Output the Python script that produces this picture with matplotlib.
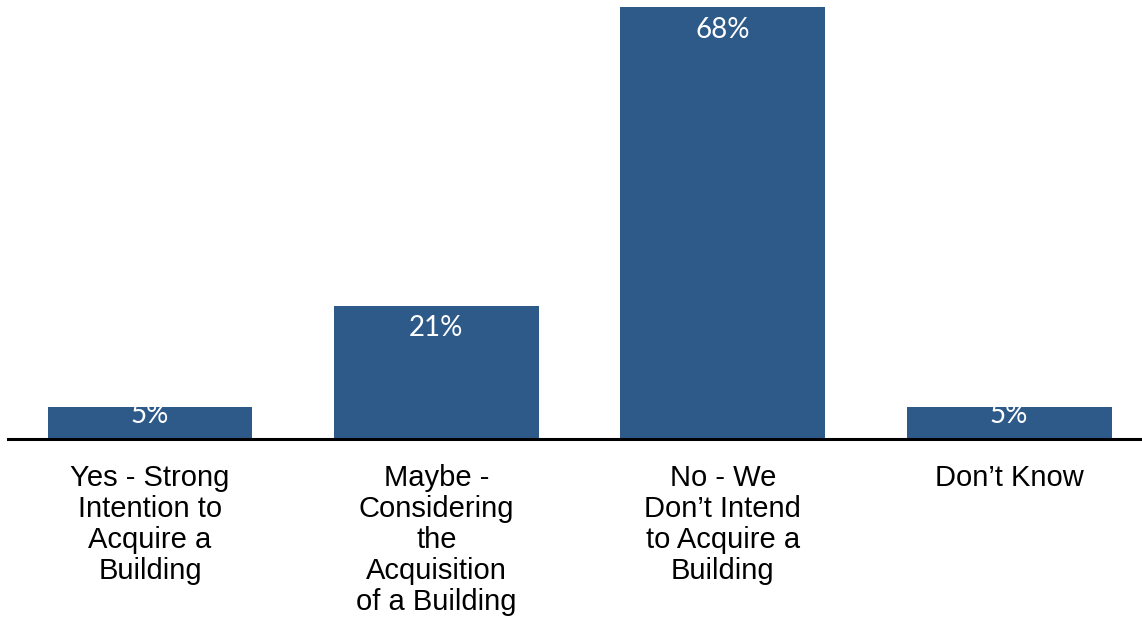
import matplotlib.pyplot as plt

categories = [
    "Yes - Strong\nIntention to\nAcquire a\nBuilding",
    "Maybe -\nConsidering\nthe\nAcquisition\nof a Building",
    "No - We\nDon\u2019t Intend\nto Acquire a\nBuilding",
    "Don\u2019t Know",
]
values = [5, 21, 68, 5]

fig = plt.figure(figsize=(11.42, 6.18), dpi=100)
ax = fig.add_axes([8 / 1142, 179 / 618, 1134 / 1142, 432 / 618])

bars = ax.bar(range(len(values)), values, width=0.715, color="#2E5A8A", zorder=2)

ax.set_xlim(-0.496, 3.464)
ax.set_ylim(0, 68)

for spine in ["top", "left", "right"]:
    ax.spines[spine].set_visible(False)
ax.spines["bottom"].set_linewidth(2.2)
ax.spines["bottom"].set_color("black")
ax.spines["bottom"].set_zorder(3)
ax.set_yticks([])
ax.set_xticks(range(len(values)))
ax.set_xticklabels(categories, fontsize=21, family="Liberation Sans",
                   linespacing=1.14, va="top")
ax.tick_params(axis="x", length=0, pad=18)

# value labels sit just under each bar top, clipped to the bar
for bar, v in zip(bars, values):
    y = max(v - 3.6, 3.8)
    t = ax.text(bar.get_x() + bar.get_width() / 2, y, f"{v}%",
                ha="center", va="center", color="white", fontsize=20,
                family="Lato", zorder=4)
    t.set_clip_path(bar)

fig.savefig("out.png", dpi=100)
